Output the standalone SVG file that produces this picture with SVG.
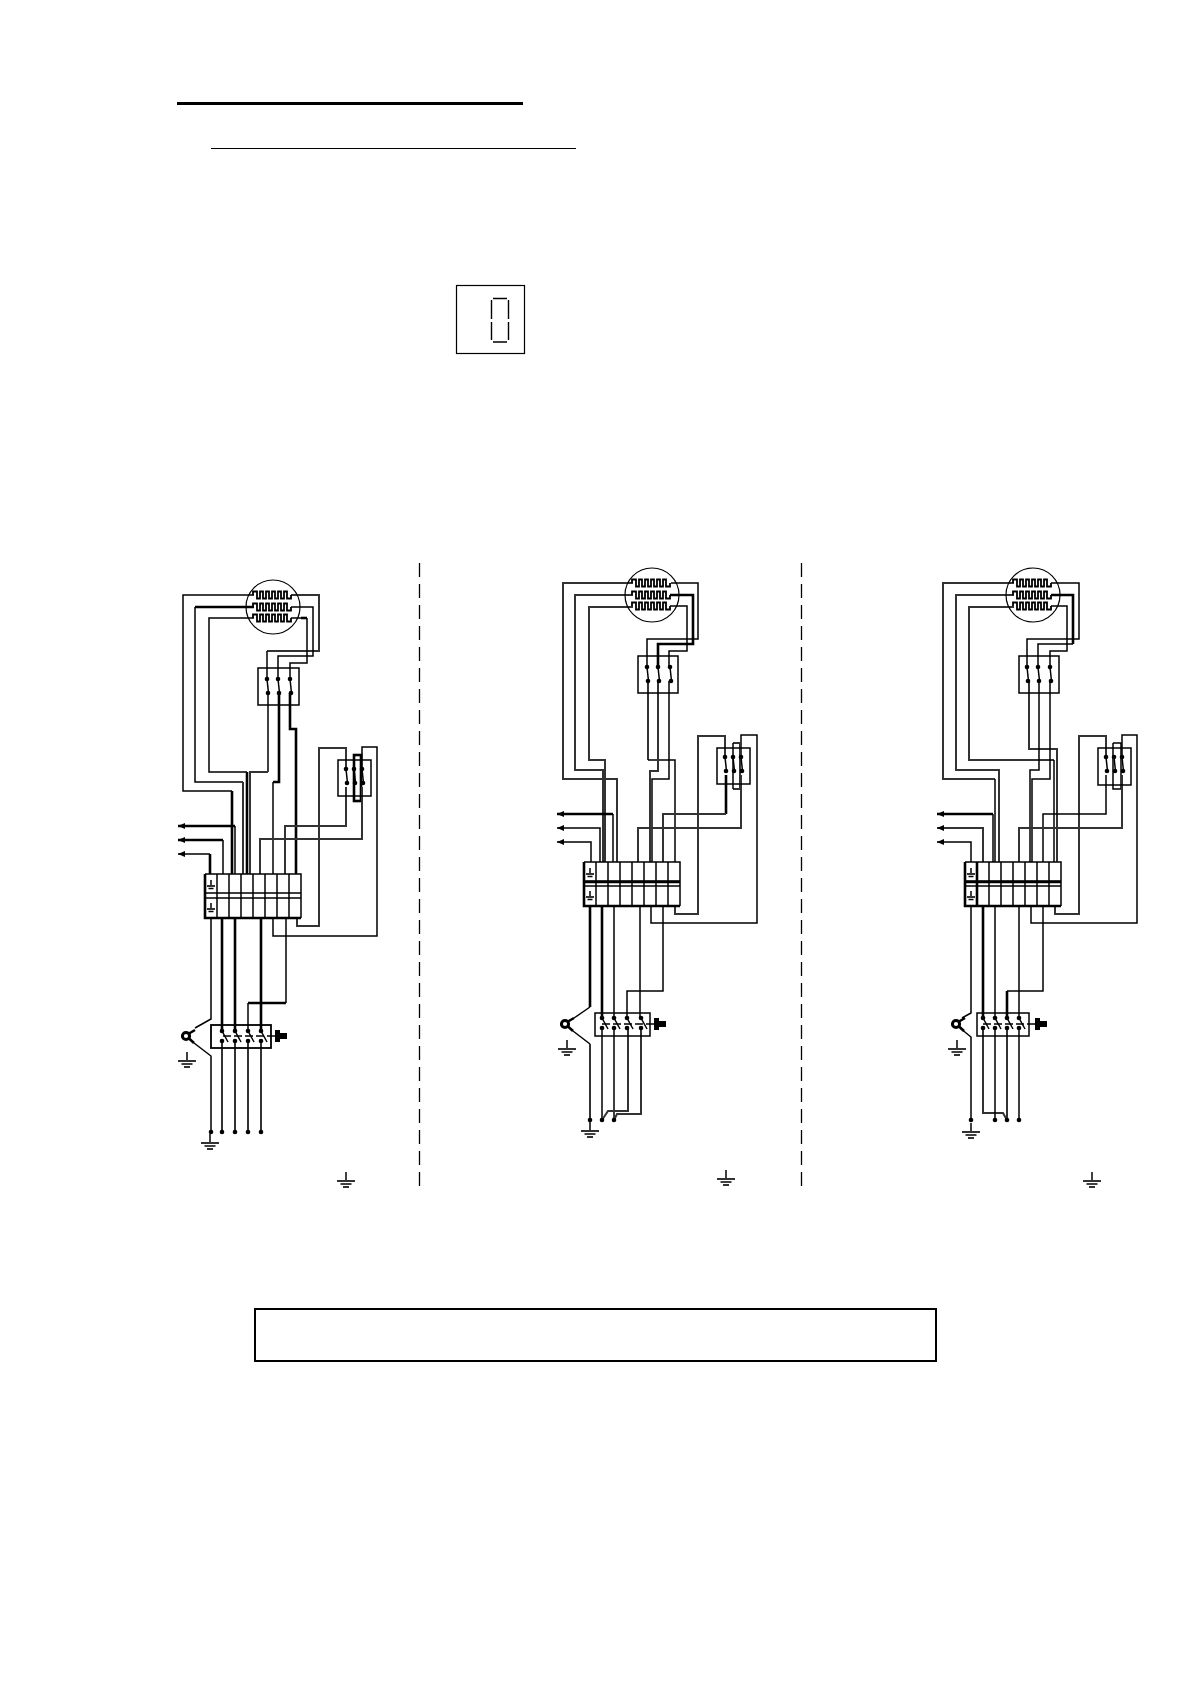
<svg xmlns="http://www.w3.org/2000/svg" xmlns:xlink="http://www.w3.org/1999/xlink" width="1190" height="1684" viewBox="0 0 1190 1684">
<style>
path,line,rect,circle{fill:none;stroke:#000;stroke-width:1.5}
.t{stroke-width:1.5}
.h{stroke-width:2.6}
.g{stroke:#333;stroke-width:2}
.f{fill:#000;stroke:none}
.d{stroke-dasharray:14 7;stroke-width:1.3}
.sd{stroke-dasharray:8 3;stroke-width:1.4}
.thin{stroke-width:1.2}
.row{stroke-width:1.8}
</style>
<defs>
<marker id="arrow" markerUnits="userSpaceOnUse" markerWidth="8" markerHeight="6" refX="0" refY="3" orient="0"><path class="f" d="M0,3L7,0V6z"/></marker>
<path id="row" class="row" d="M-20,0V-3.5H-16V3.5H-13V-3.5H-10V3.5H-7V-3.5H-4V3.5H-1V-3.5H2V3.5H5V-3.5H8V3.5H11V-3.5H14V3.5H18V0" />
<g id="heater">
<circle r="27" class="thin"/>
<use xlink:href="#row" y="-12"/><use xlink:href="#row" y="0"/><use xlink:href="#row" y="11"/>
</g>
<circle id="dot" class="f" r="2.3"/>
<g id="blade3">
<use xlink:href="#dot"/><use xlink:href="#dot" x="1" y="14"/><line x1="0" y1="0" x2="1.5" y2="14"/>
</g>
<g id="contactor">
<use xlink:href="#blade3"/><use xlink:href="#blade3" x="11"/><use xlink:href="#blade3" x="23"/>
</g>
<g id="aux">
<use xlink:href="#blade3"/><use xlink:href="#blade3" x="8"/><use xlink:href="#blade3" x="16"/>
</g>
<g id="sw">
<use xlink:href="#dot"/><use xlink:href="#dot" y="10"/><line x1="0" y1="0" x2="6" y2="11"/>
</g>
<g id="knob"><rect class="f" x="0" y="-6" width="5" height="12"/><rect class="f" x="5" y="-3" width="7" height="6"/></g>
<g id="ground">
<line x1="0" y1="0" x2="0" y2="9"/><line x1="-9" y1="9" x2="9" y2="9" class="g"/><line x1="-5.5" y1="12" x2="5.5" y2="12"/><line x1="-3" y1="15" x2="3" y2="15" class="g"/>
</g>
<g id="tground">
<line x1="0" y1="0" x2="0" y2="6"/><line x1="-4" y1="6" x2="4" y2="6" class="g"/><line x1="-2.5" y1="8.5" x2="2.5" y2="8.5"/>
</g>
<g id="terminal">
<path class="h" d="M0,0V44H96"/>
<path d="M0,0H96V44M12,0V44M24,0V44M36,0V44M48,0V44M60,0V44M72,0V44M84,0V44M0,19H96M0,24H96"/>
<use xlink:href="#tground" x="6" y="6"/><use xlink:href="#tground" x="6" y="29"/>
</g>
<g id="sensor">
<circle r="3.6" style="stroke-width:3"/>
<line x1="3" y1="-2.5" x2="9" y2="-6" class="h"/><line x1="3" y1="2.5" x2="8" y2="7" class="h"/>
</g>
</defs>
<rect width="1190" height="1684" style="fill:#fff;stroke:none"/>

<g id="header">
<line x1="177" y1="103.5" x2="523" y2="103.5" style="stroke-width:3"/>
<line x1="211" y1="148.5" x2="576" y2="148.5" class="thin"/>
</g>
<g id="digit-box">
<rect x="456.5" y="285.5" width="68" height="68" class="thin"/>
<path d="M493,298.5H507M491.5,300V319M508.5,300V319M491.5,322V340M508.5,322V340M493,342H507" style="stroke-width:1.4"/>
</g>
<g id="note-box"><rect x="255" y="1309" width="681" height="52" style="stroke-width:2"/></g>
<g id="dividers">
<line class="d" x1="419.5" y1="563" x2="419.5" y2="1188"/>
<line class="d" x1="801.5" y1="563" x2="801.5" y2="1188"/>
</g>

<g id="connectors">
<g id="connectors-1">
<path class="t" d="M254,595H183V791H232"/><path class="h" d="M232,791V874"/>
<path class="h" d="M254,607H195"/><path class="t" d="M195,607V782H243"/><path class="g" d="M243,782V874"/>
<path class="t" d="M254,618H209V772H247"/><path class="h" d="M247,772V874"/>
<path class="g" d="M291,595H319V651H267"/><path class="t" d="M267,651V679"/>
<path class="t" d="M291,607H313V656H278V679"/>
<path class="t" d="M291,618H301"/><path class="h" d="M301,618H307"/><path class="t" d="M307,618V663H290V679"/>
<path class="t" d="M268,693V772"/><path class="g" d="M268,772H250V874"/>
<path class="h" d="M279,693V782H273"/><path class="t" d="M273,782V874"/>
<path class="h" d="M290,693V729H296V874"/>
<path class="g" d="M346,769V748H319V926H297V918"/>
<path class="t" d="M362,769V747H377V936H273V918"/>
<rect class="h" x="354" y="755" width="7" height="46"/>
<path class="g" d="M346,787V826H285V874"/>
<path class="g" d="M362,787V839H260V874"/>
<path class="h" marker-start="url(#arrow)" d="M178,826H235"/><path class="t" d="M235,826V874"/>
<path class="h" marker-start="url(#arrow)" d="M178,840H223"/><path class="t" d="M223,840V874"/>
<path class="t" marker-start="url(#arrow)" d="M178,854H210"/><path class="h" d="M210,854V874"/>
<path class="t" d="M211,918V1019L195,1028"/>
<path class="h" d="M222,918V1031M235,918V1031M261,918V1031"/>
<path class="t" d="M286,918V1003"/><path class="h" d="M286,1003H248"/><path class="t" d="M248,1003V1031"/>
<path class="t" d="M194,1043L211,1056V1132"/>
<path class="g" d="M222,1041V1132M235,1041V1132M248,1041V1132M261,1041V1132"/>
<path class="sd" d="M223,1036H275"/>
</g>
<g id="connectors-2">
<path class="g" d="M633,583H563V779H617V862"/>
<path class="g" d="M633,595H575V770H603V862"/>
<path class="g" d="M633,607H589V760H605V862"/>
<path class="t" d="M671,583H698V639H647V667"/>
<path class="h" d="M670,595H693V644H658V667"/>
<path class="t" d="M670,606H687V651H669V667"/>
<path class="g" d="M648,681V760"/><path class="t" d="M648,760H675V862"/>
<path class="g" d="M658,681V771H650V862"/>
<path class="t" d="M669,681V779H652V862"/>
<path class="g" d="M725,757V736H698V914H675V906"/>
<path class="t" d="M741,757V735H757V923H651V906"/>
<path class="g" d="M733,743H740V789H733"/><path class="t" d="M733,743V789"/>
<path class="h" d="M726,775V814"/><path class="g" d="M726,814H663V862"/>
<path class="g" d="M741,775V828H638V862"/>
<path class="h" marker-start="url(#arrow)" d="M557,814H613"/><path class="t" d="M613,814V862"/>
<path class="t" marker-start="url(#arrow)" d="M557,828H600V862"/>
<path class="t" marker-start="url(#arrow)" d="M557,842H591V862"/>
<path class="h" d="M590,906V1007"/><path class="t" d="M590,1007L574,1018M573,1031L590,1044"/><path class="g" d="M590,1044V1120"/>
<path class="h" d="M602,906V1018"/>
<path class="t" d="M614,906V1018M640,906V1018M663,906V991H627V1018"/>
<path class="t" d="M602,1029V1120M614,1029V1120"/>
<path class="g" d="M628,1029V1111H608L602,1120"/>
<path class="g" d="M641,1029V1114H617L614,1120"/>
<path class="sd" d="M602,1024H654"/>
</g>
<g id="connectors-3">
<path class="g" d="M1014,583H943V779H995"/><path class="t" d="M995,779V862"/>
<path class="g" d="M1014,595H956V770H999V862"/>
<path class="g" d="M1014,607H969V760H1054"/><path class="t" d="M1054,760V862"/>
<path class="t" d="M1051,583H1079V639H1027V667"/>
<path class="h" d="M1051,595H1073V644"/><path class="t" d="M1073,644H1038V667"/>
<path class="t" d="M1051,606H1067V651H1050V667"/>
<path class="g" d="M1029,681V749H1057V862"/>
<path class="t" d="M1039,681V770H1030V862"/>
<path class="t" d="M1050,681V779H1032V862"/>
<path class="g" d="M1106,757V736H1079V914H1055V906"/>
<path class="t" d="M1122,757V735H1137V923H1031V906"/>
<path class="t" d="M1113,743H1121V789H1113V743"/>
<path class="t" d="M1106,775V814H1043V862"/>
<path class="g" d="M1122,775V828H1019V862"/>
<path class="h" marker-start="url(#arrow)" d="M937,814H993"/><path class="t" d="M993,814V862"/>
<path class="g" marker-start="url(#arrow)" d="M937,828H983V862"/>
<path class="t" marker-start="url(#arrow)" d="M937,842H971V862"/>
<path class="t" d="M971,906V1013L962,1018M960,1028L971,1037V1120"/>
<path class="h" d="M983,906V1018"/>
<path class="t" d="M995,906V1018M1019,906V1018M1043,906V991H1007"/><path class="h" d="M1007,991V1018"/>
<path class="g" d="M983,1029V1113H1003L1007,1120M1007,1029V1120"/>
<path class="t" d="M995,1029V1120M1019,1029V1120"/>
<path class="sd" d="M983,1024H1035"/>
</g>
</g>

<g id="panel-1">
<g id="p1-heater"><use xlink:href="#heater" x="273" y="607"/></g>
<g id="p1-contactor"><rect x="258" y="668" width="41" height="37"/><use xlink:href="#contactor" x="267" y="679"/></g>
<g id="p1-aux"><rect x="338" y="760" width="33" height="36"/><use xlink:href="#aux" x="346" y="769"/></g>
<g id="p1-terminal"><use xlink:href="#terminal" x="205" y="874"/></g>
<g id="p1-switch"><rect x="211" y="1025" width="60" height="23" style="stroke-width:1.8"/>
<use xlink:href="#sw" x="222" y="1031"/><use xlink:href="#sw" x="235" y="1031"/><use xlink:href="#sw" x="248" y="1031"/><use xlink:href="#sw" x="261" y="1031"/>
<use xlink:href="#knob" x="275" y="1036"/></g>
<g id="p1-sensor"><use xlink:href="#sensor" x="186" y="1036"/></g>
<g id="p1-terminals">
<use xlink:href="#dot" x="211" y="1132"/><use xlink:href="#dot" x="222" y="1132"/><use xlink:href="#dot" x="235" y="1132"/><use xlink:href="#dot" x="248" y="1132"/><use xlink:href="#dot" x="261" y="1132"/></g>
<g id="p1-grounds"><use xlink:href="#ground" x="187" y="1052"/><use xlink:href="#ground" x="210" y="1134"/><use xlink:href="#ground" x="346" y="1172"/></g>
</g>

<g id="panel-2">
<g id="p2-heater"><use xlink:href="#heater" x="652" y="595"/></g>
<g id="p2-contactor"><rect x="638" y="656" width="40" height="37"/><use xlink:href="#contactor" x="647" y="667"/></g>
<g id="p2-aux"><rect x="717" y="748" width="33" height="36"/><use xlink:href="#aux" x="725" y="757"/></g>
<g id="p2-terminal"><use xlink:href="#terminal" x="584" y="862"/><line x1="584" y1="882" x2="680" y2="882" class="h"/></g>
<g id="p2-switch"><rect x="595" y="1013" width="55" height="23"/>
<use xlink:href="#sw" x="602" y="1018"/><use xlink:href="#sw" x="614" y="1018"/><use xlink:href="#sw" x="627" y="1018"/><use xlink:href="#sw" x="641" y="1018"/>
<use xlink:href="#knob" x="654" y="1024"/></g>
<g id="p2-sensor"><use xlink:href="#sensor" x="565" y="1024"/></g>
<g id="p2-terminals"><use xlink:href="#dot" x="590" y="1120"/><use xlink:href="#dot" x="602" y="1120"/><use xlink:href="#dot" x="614" y="1120"/></g>
<g id="p2-grounds"><use xlink:href="#ground" x="567" y="1040"/><use xlink:href="#ground" x="590" y="1122"/><use xlink:href="#ground" x="726" y="1170"/></g>
</g>

<g id="panel-3">
<g id="p3-heater"><use xlink:href="#heater" x="1033" y="595"/></g>
<g id="p3-contactor"><rect x="1019" y="656" width="40" height="37"/><use xlink:href="#contactor" x="1027" y="667"/></g>
<g id="p3-aux"><rect x="1098" y="748" width="33" height="37"/><use xlink:href="#aux" x="1106" y="757"/></g>
<g id="p3-terminal"><use xlink:href="#terminal" x="965" y="862"/><line x1="977" y1="862" x2="977" y2="906" class="h"/><line x1="965" y1="882" x2="1061" y2="882" class="h"/></g>
<g id="p3-switch"><rect x="977" y="1013" width="52" height="23"/>
<use xlink:href="#sw" x="983" y="1018"/><use xlink:href="#sw" x="995" y="1018"/><use xlink:href="#sw" x="1007" y="1018"/><use xlink:href="#sw" x="1019" y="1018"/>
<use xlink:href="#knob" x="1035" y="1024"/></g>
<g id="p3-sensor"><use xlink:href="#sensor" x="956" y="1024"/></g>
<g id="p3-terminals"><use xlink:href="#dot" x="971" y="1120"/><use xlink:href="#dot" x="995" y="1120"/><use xlink:href="#dot" x="1007" y="1120"/><use xlink:href="#dot" x="1019" y="1120"/></g>
<g id="p3-grounds"><use xlink:href="#ground" x="957" y="1040"/><use xlink:href="#ground" x="971" y="1123"/><use xlink:href="#ground" x="1092" y="1172"/></g>
</g>
</svg>
